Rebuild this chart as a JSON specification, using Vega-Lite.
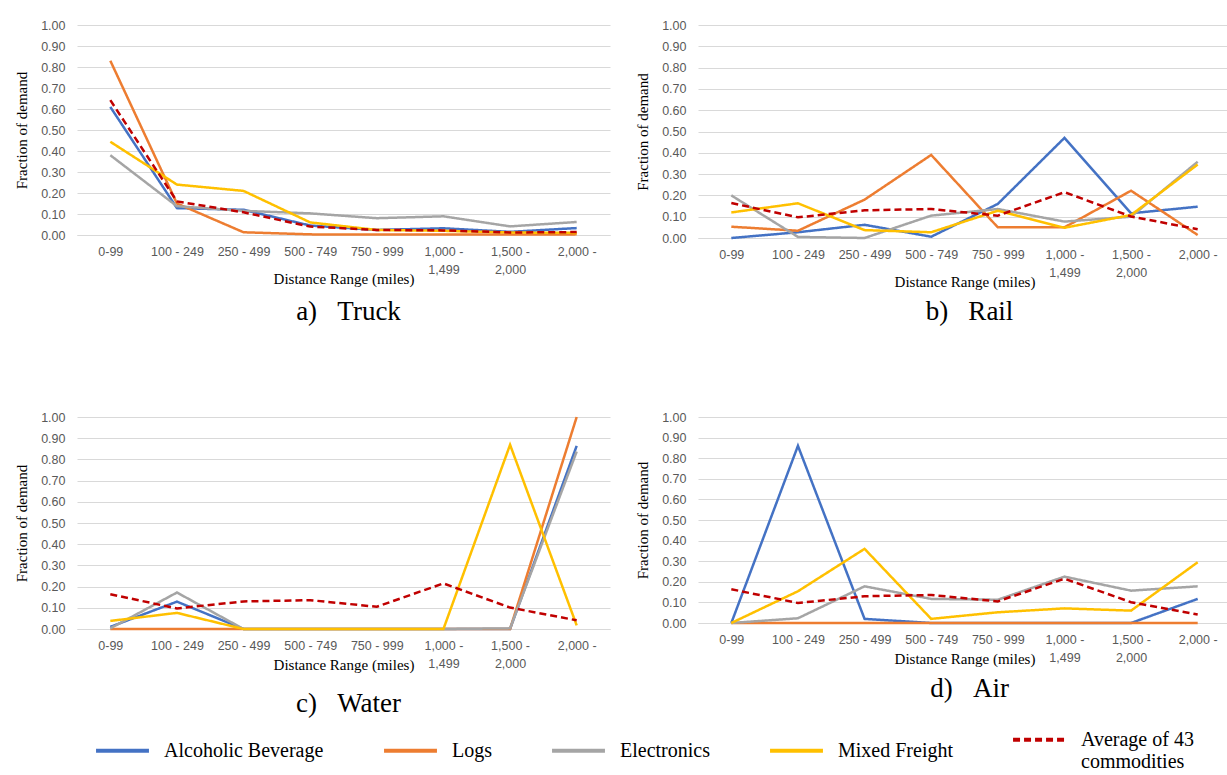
{
  "$schema": "https://vega.github.io/schema/vega-lite/v6.json",
  "padding": {"left": 14, "top": 19, "right": 0, "bottom": 0},
  "background": "white",
  "datasets": {
    "d": [
      {"mode":"Truck","series":"Alcoholic Beverage","range":"0-99","value":0.61},
      {"mode":"Truck","series":"Alcoholic Beverage","range":"100 - 249","value":0.128},
      {"mode":"Truck","series":"Alcoholic Beverage","range":"250 - 499","value":0.12},
      {"mode":"Truck","series":"Alcoholic Beverage","range":"500 - 749","value":0.045},
      {"mode":"Truck","series":"Alcoholic Beverage","range":"750 - 999","value":0.024},
      {"mode":"Truck","series":"Alcoholic Beverage","range":"1,000 - 1,499","value":0.032},
      {"mode":"Truck","series":"Alcoholic Beverage","range":"1,500 - 2,000","value":0.015},
      {"mode":"Truck","series":"Alcoholic Beverage","range":"2,000 -","value":0.033},
      {"mode":"Truck","series":"Logs","range":"0-99","value":0.83},
      {"mode":"Truck","series":"Logs","range":"100 - 249","value":0.15},
      {"mode":"Truck","series":"Logs","range":"250 - 499","value":0.013},
      {"mode":"Truck","series":"Logs","range":"500 - 749","value":0.003},
      {"mode":"Truck","series":"Logs","range":"750 - 999","value":0.002},
      {"mode":"Truck","series":"Logs","range":"1,000 - 1,499","value":0.002},
      {"mode":"Truck","series":"Logs","range":"1,500 - 2,000","value":0.002},
      {"mode":"Truck","series":"Logs","range":"2,000 -","value":0.003},
      {"mode":"Truck","series":"Electronics","range":"0-99","value":0.38},
      {"mode":"Truck","series":"Electronics","range":"100 - 249","value":0.137},
      {"mode":"Truck","series":"Electronics","range":"250 - 499","value":0.115},
      {"mode":"Truck","series":"Electronics","range":"500 - 749","value":0.103},
      {"mode":"Truck","series":"Electronics","range":"750 - 999","value":0.08},
      {"mode":"Truck","series":"Electronics","range":"1,000 - 1,499","value":0.089},
      {"mode":"Truck","series":"Electronics","range":"1,500 - 2,000","value":0.041},
      {"mode":"Truck","series":"Electronics","range":"2,000 -","value":0.062},
      {"mode":"Truck","series":"Mixed Freight","range":"0-99","value":0.444},
      {"mode":"Truck","series":"Mixed Freight","range":"100 - 249","value":0.24},
      {"mode":"Truck","series":"Mixed Freight","range":"250 - 499","value":0.21},
      {"mode":"Truck","series":"Mixed Freight","range":"500 - 749","value":0.06},
      {"mode":"Truck","series":"Mixed Freight","range":"750 - 999","value":0.024},
      {"mode":"Truck","series":"Mixed Freight","range":"1,000 - 1,499","value":0.02},
      {"mode":"Truck","series":"Mixed Freight","range":"1,500 - 2,000","value":0.012},
      {"mode":"Truck","series":"Mixed Freight","range":"2,000 -","value":0.01},
      {"mode":"Truck","series":"Average of 43 commodities","range":"0-99","value":0.642},
      {"mode":"Truck","series":"Average of 43 commodities","range":"100 - 249","value":0.16},
      {"mode":"Truck","series":"Average of 43 commodities","range":"250 - 499","value":0.108},
      {"mode":"Truck","series":"Average of 43 commodities","range":"500 - 749","value":0.04},
      {"mode":"Truck","series":"Average of 43 commodities","range":"750 - 999","value":0.024},
      {"mode":"Truck","series":"Average of 43 commodities","range":"1,000 - 1,499","value":0.022},
      {"mode":"Truck","series":"Average of 43 commodities","range":"1,500 - 2,000","value":0.012},
      {"mode":"Truck","series":"Average of 43 commodities","range":"2,000 -","value":0.014},

      {"mode":"Rail","series":"Alcoholic Beverage","range":"0-99","value":0.0},
      {"mode":"Rail","series":"Alcoholic Beverage","range":"100 - 249","value":0.027},
      {"mode":"Rail","series":"Alcoholic Beverage","range":"250 - 499","value":0.062},
      {"mode":"Rail","series":"Alcoholic Beverage","range":"500 - 749","value":0.006},
      {"mode":"Rail","series":"Alcoholic Beverage","range":"750 - 999","value":0.16},
      {"mode":"Rail","series":"Alcoholic Beverage","range":"1,000 - 1,499","value":0.47},
      {"mode":"Rail","series":"Alcoholic Beverage","range":"1,500 - 2,000","value":0.116},
      {"mode":"Rail","series":"Alcoholic Beverage","range":"2,000 -","value":0.147},
      {"mode":"Rail","series":"Logs","range":"0-99","value":0.053},
      {"mode":"Rail","series":"Logs","range":"100 - 249","value":0.034},
      {"mode":"Rail","series":"Logs","range":"250 - 499","value":0.18},
      {"mode":"Rail","series":"Logs","range":"500 - 749","value":0.39},
      {"mode":"Rail","series":"Logs","range":"750 - 999","value":0.05},
      {"mode":"Rail","series":"Logs","range":"1,000 - 1,499","value":0.05},
      {"mode":"Rail","series":"Logs","range":"1,500 - 2,000","value":0.222},
      {"mode":"Rail","series":"Logs","range":"2,000 -","value":0.014},
      {"mode":"Rail","series":"Electronics","range":"0-99","value":0.2},
      {"mode":"Rail","series":"Electronics","range":"100 - 249","value":0.005},
      {"mode":"Rail","series":"Electronics","range":"250 - 499","value":0.0},
      {"mode":"Rail","series":"Electronics","range":"500 - 749","value":0.105},
      {"mode":"Rail","series":"Electronics","range":"750 - 999","value":0.136},
      {"mode":"Rail","series":"Electronics","range":"1,000 - 1,499","value":0.077},
      {"mode":"Rail","series":"Electronics","range":"1,500 - 2,000","value":0.1},
      {"mode":"Rail","series":"Electronics","range":"2,000 -","value":0.358},
      {"mode":"Rail","series":"Mixed Freight","range":"0-99","value":0.12},
      {"mode":"Rail","series":"Mixed Freight","range":"100 - 249","value":0.163},
      {"mode":"Rail","series":"Mixed Freight","range":"250 - 499","value":0.037},
      {"mode":"Rail","series":"Mixed Freight","range":"500 - 749","value":0.027},
      {"mode":"Rail","series":"Mixed Freight","range":"750 - 999","value":0.128},
      {"mode":"Rail","series":"Mixed Freight","range":"1,000 - 1,499","value":0.048},
      {"mode":"Rail","series":"Mixed Freight","range":"1,500 - 2,000","value":0.108},
      {"mode":"Rail","series":"Mixed Freight","range":"2,000 -","value":0.345},
      {"mode":"Rail","series":"Average of 43 commodities","range":"0-99","value":0.164},
      {"mode":"Rail","series":"Average of 43 commodities","range":"100 - 249","value":0.097},
      {"mode":"Rail","series":"Average of 43 commodities","range":"250 - 499","value":0.13},
      {"mode":"Rail","series":"Average of 43 commodities","range":"500 - 749","value":0.136},
      {"mode":"Rail","series":"Average of 43 commodities","range":"750 - 999","value":0.105},
      {"mode":"Rail","series":"Average of 43 commodities","range":"1,000 - 1,499","value":0.215},
      {"mode":"Rail","series":"Average of 43 commodities","range":"1,500 - 2,000","value":0.101},
      {"mode":"Rail","series":"Average of 43 commodities","range":"2,000 -","value":0.041},

      {"mode":"Water","series":"Alcoholic Beverage","range":"0-99","value":0.01},
      {"mode":"Water","series":"Alcoholic Beverage","range":"100 - 249","value":0.129},
      {"mode":"Water","series":"Alcoholic Beverage","range":"250 - 499","value":0.0},
      {"mode":"Water","series":"Alcoholic Beverage","range":"500 - 749","value":0.0},
      {"mode":"Water","series":"Alcoholic Beverage","range":"750 - 999","value":0.0},
      {"mode":"Water","series":"Alcoholic Beverage","range":"1,000 - 1,499","value":0.0},
      {"mode":"Water","series":"Alcoholic Beverage","range":"1,500 - 2,000","value":0.0},
      {"mode":"Water","series":"Alcoholic Beverage","range":"2,000 -","value":0.864},
      {"mode":"Water","series":"Logs","range":"0-99","value":0.0},
      {"mode":"Water","series":"Logs","range":"100 - 249","value":0.0},
      {"mode":"Water","series":"Logs","range":"250 - 499","value":0.0},
      {"mode":"Water","series":"Logs","range":"500 - 749","value":0.0},
      {"mode":"Water","series":"Logs","range":"750 - 999","value":0.0},
      {"mode":"Water","series":"Logs","range":"1,000 - 1,499","value":0.0},
      {"mode":"Water","series":"Logs","range":"1,500 - 2,000","value":0.0},
      {"mode":"Water","series":"Logs","range":"2,000 -","value":1.0},
      {"mode":"Water","series":"Electronics","range":"0-99","value":0.003},
      {"mode":"Water","series":"Electronics","range":"100 - 249","value":0.172},
      {"mode":"Water","series":"Electronics","range":"250 - 499","value":0.0},
      {"mode":"Water","series":"Electronics","range":"500 - 749","value":0.0},
      {"mode":"Water","series":"Electronics","range":"750 - 999","value":0.0},
      {"mode":"Water","series":"Electronics","range":"1,000 - 1,499","value":0.0},
      {"mode":"Water","series":"Electronics","range":"1,500 - 2,000","value":0.003},
      {"mode":"Water","series":"Electronics","range":"2,000 -","value":0.837},
      {"mode":"Water","series":"Mixed Freight","range":"0-99","value":0.038},
      {"mode":"Water","series":"Mixed Freight","range":"100 - 249","value":0.076},
      {"mode":"Water","series":"Mixed Freight","range":"250 - 499","value":0.0},
      {"mode":"Water","series":"Mixed Freight","range":"500 - 749","value":0.0},
      {"mode":"Water","series":"Mixed Freight","range":"750 - 999","value":0.0},
      {"mode":"Water","series":"Mixed Freight","range":"1,000 - 1,499","value":0.0},
      {"mode":"Water","series":"Mixed Freight","range":"1,500 - 2,000","value":0.869},
      {"mode":"Water","series":"Mixed Freight","range":"2,000 -","value":0.017},
      {"mode":"Water","series":"Average of 43 commodities","range":"0-99","value":0.164},
      {"mode":"Water","series":"Average of 43 commodities","range":"100 - 249","value":0.097},
      {"mode":"Water","series":"Average of 43 commodities","range":"250 - 499","value":0.13},
      {"mode":"Water","series":"Average of 43 commodities","range":"500 - 749","value":0.136},
      {"mode":"Water","series":"Average of 43 commodities","range":"750 - 999","value":0.105},
      {"mode":"Water","series":"Average of 43 commodities","range":"1,000 - 1,499","value":0.215},
      {"mode":"Water","series":"Average of 43 commodities","range":"1,500 - 2,000","value":0.101},
      {"mode":"Water","series":"Average of 43 commodities","range":"2,000 -","value":0.041},

      {"mode":"Air","series":"Alcoholic Beverage","range":"0-99","value":0.0},
      {"mode":"Air","series":"Alcoholic Beverage","range":"100 - 249","value":0.86},
      {"mode":"Air","series":"Alcoholic Beverage","range":"250 - 499","value":0.02},
      {"mode":"Air","series":"Alcoholic Beverage","range":"500 - 749","value":0.0},
      {"mode":"Air","series":"Alcoholic Beverage","range":"750 - 999","value":0.0},
      {"mode":"Air","series":"Alcoholic Beverage","range":"1,000 - 1,499","value":0.0},
      {"mode":"Air","series":"Alcoholic Beverage","range":"1,500 - 2,000","value":0.0},
      {"mode":"Air","series":"Alcoholic Beverage","range":"2,000 -","value":0.117},
      {"mode":"Air","series":"Logs","range":"0-99","value":0.0},
      {"mode":"Air","series":"Logs","range":"100 - 249","value":0.0},
      {"mode":"Air","series":"Logs","range":"250 - 499","value":0.0},
      {"mode":"Air","series":"Logs","range":"500 - 749","value":0.0},
      {"mode":"Air","series":"Logs","range":"750 - 999","value":0.0},
      {"mode":"Air","series":"Logs","range":"1,000 - 1,499","value":0.0},
      {"mode":"Air","series":"Logs","range":"1,500 - 2,000","value":0.0},
      {"mode":"Air","series":"Logs","range":"2,000 -","value":0.0},
      {"mode":"Air","series":"Electronics","range":"0-99","value":0.0},
      {"mode":"Air","series":"Electronics","range":"100 - 249","value":0.023},
      {"mode":"Air","series":"Electronics","range":"250 - 499","value":0.178},
      {"mode":"Air","series":"Electronics","range":"500 - 749","value":0.117},
      {"mode":"Air","series":"Electronics","range":"750 - 999","value":0.113},
      {"mode":"Air","series":"Electronics","range":"1,000 - 1,499","value":0.225},
      {"mode":"Air","series":"Electronics","range":"1,500 - 2,000","value":0.157},
      {"mode":"Air","series":"Electronics","range":"2,000 -","value":0.178},
      {"mode":"Air","series":"Mixed Freight","range":"0-99","value":0.0},
      {"mode":"Air","series":"Mixed Freight","range":"100 - 249","value":0.154},
      {"mode":"Air","series":"Mixed Freight","range":"250 - 499","value":0.36},
      {"mode":"Air","series":"Mixed Freight","range":"500 - 749","value":0.02},
      {"mode":"Air","series":"Mixed Freight","range":"750 - 999","value":0.052},
      {"mode":"Air","series":"Mixed Freight","range":"1,000 - 1,499","value":0.071},
      {"mode":"Air","series":"Mixed Freight","range":"1,500 - 2,000","value":0.06},
      {"mode":"Air","series":"Mixed Freight","range":"2,000 -","value":0.295},
      {"mode":"Air","series":"Average of 43 commodities","range":"0-99","value":0.164},
      {"mode":"Air","series":"Average of 43 commodities","range":"100 - 249","value":0.097},
      {"mode":"Air","series":"Average of 43 commodities","range":"250 - 499","value":0.13},
      {"mode":"Air","series":"Average of 43 commodities","range":"500 - 749","value":0.136},
      {"mode":"Air","series":"Average of 43 commodities","range":"750 - 999","value":0.105},
      {"mode":"Air","series":"Average of 43 commodities","range":"1,000 - 1,499","value":0.215},
      {"mode":"Air","series":"Average of 43 commodities","range":"1,500 - 2,000","value":0.101},
      {"mode":"Air","series":"Average of 43 commodities","range":"2,000 -","value":0.041}
    ]
  },
  "data": {"name": "d"},
  "columns": 2,
  "spacing": {"row": 86, "column": 25},
  "concat": [
    {
      "width": 533, "height": 210,
      "title": {"text": "a)\u00a0\u00a0\u00a0Truck", "offset": 12},
      "transform": [{"filter": "datum.mode === 'Truck'"}],
      "mark": {"type": "line", "strokeWidth": 2.5},
      "encoding": {
        "x": {"field": "range", "type": "ordinal", "sort": ["0-99","100 - 249","250 - 499","500 - 749","750 - 999","1,000 - 1,499","1,500 - 2,000","2,000 -"],
          "axis": {"title": "Distance Range (miles)", "labelAngle": 0, "ticks": false, "domainColor": "#D9D9D9", "grid": false, "labelFont": "Liberation Sans", "labelFontSize": 12.5, "labelColor": "#595959", "labelPadding": 10, "labelLineHeight": 18, "labelExpr": "indexof(datum.label, ',') >= 0 ? [slice(datum.label, 0, 7), slice(datum.label, 8)] : datum.label", "titleFont": "Liberation Serif", "titleFontSize": 15, "titleFontWeight": "normal", "titleColor": "#000000", "titlePadding": -4}},
        "y": {"field": "value", "type": "quantitative", "scale": {"domain": [0, 1]},
          "axis": {"title": "Fraction of demand", "values": [0, 0.1, 0.2, 0.3, 0.4, 0.5, 0.6, 0.7, 0.8, 0.9, 1.0], "format": ".2f", "domain": false, "ticks": false, "gridColor": "#D9D9D9", "labelOverlap": false, "labelFont": "Liberation Sans", "labelFontSize": 12.5, "labelColor": "#595959", "labelPadding": 12, "titleFont": "Liberation Serif", "titleFontSize": 15, "titleFontWeight": "normal", "titleColor": "#000000", "titlePadding": 11}},
        "color": {"field": "series", "type": "nominal", "scale": {"domain": ["Alcoholic Beverage","Logs","Electronics","Mixed Freight","Average of 43 commodities"], "range": ["#4472C4","#ED7D31","#A5A5A5","#FFC000","#C00000"]},
          "legend": {"title": null, "orient": "none", "legendX": 17, "legendY": 686, "direction": "horizontal", "symbolType": "stroke", "symbolSize": 2800, "symbolStrokeWidth": 4, "labelFont": "Liberation Serif", "labelFontSize": 20, "labelColor": "#000000", "labelOffset": 13, "labelLimit": 400, "columnPadding": 52, "labelExpr": "datum.label == 'Average of 43 commodities' ? ['Average of 43', 'commodities'] : datum.label"}},
        "strokeDash": {"field": "series", "type": "nominal", "scale": {"domain": ["Alcoholic Beverage","Logs","Electronics","Mixed Freight","Average of 43 commodities"], "range": [[1,0],[1,0],[1,0],[1,0],[7,4]]},
          "legend": {"title": null, "orient": "none", "legendX": 17, "legendY": 686, "direction": "horizontal", "symbolType": "stroke", "symbolSize": 2800, "symbolStrokeWidth": 4, "labelFont": "Liberation Serif", "labelFontSize": 20, "labelColor": "#000000", "labelOffset": 13, "labelLimit": 400, "columnPadding": 52, "labelExpr": "datum.label == 'Average of 43 commodities' ? ['Average of 43', 'commodities'] : datum.label"}}
      }
    },
    {
      "width": 533, "height": 213,
      "title": {"text": "b)\u00a0\u00a0\u00a0Rail", "offset": 9},
      "transform": [{"filter": "datum.mode === 'Rail'"}],
      "mark": {"type": "line", "strokeWidth": 2.5},
      "encoding": {
        "x": {"field": "range", "type": "ordinal", "sort": ["0-99","100 - 249","250 - 499","500 - 749","750 - 999","1,000 - 1,499","1,500 - 2,000","2,000 -"],
          "axis": {"title": "Distance Range (miles)", "labelAngle": 0, "ticks": false, "domainColor": "#D9D9D9", "grid": false, "labelFont": "Liberation Sans", "labelFontSize": 12.5, "labelColor": "#595959", "labelPadding": 10, "labelLineHeight": 18, "labelExpr": "indexof(datum.label, ',') >= 0 ? [slice(datum.label, 0, 7), slice(datum.label, 8)] : datum.label", "titleFont": "Liberation Serif", "titleFontSize": 15, "titleFontWeight": "normal", "titleColor": "#000000", "titlePadding": -4}},
        "y": {"field": "value", "type": "quantitative", "scale": {"domain": [0, 1]},
          "axis": {"title": "Fraction of demand", "values": [0, 0.1, 0.2, 0.3, 0.4, 0.5, 0.6, 0.7, 0.8, 0.9, 1.0], "format": ".2f", "domain": false, "ticks": false, "gridColor": "#D9D9D9", "labelOverlap": false, "labelFont": "Liberation Sans", "labelFontSize": 12.5, "labelColor": "#595959", "labelPadding": 12, "titleFont": "Liberation Serif", "titleFontSize": 15, "titleFontWeight": "normal", "titleColor": "#000000", "titlePadding": 11}},
        "color": {"field": "series", "type": "nominal", "scale": {"domain": ["Alcoholic Beverage","Logs","Electronics","Mixed Freight","Average of 43 commodities"], "range": ["#4472C4","#ED7D31","#A5A5A5","#FFC000","#C00000"]}},
        "strokeDash": {"field": "series", "type": "nominal", "scale": {"domain": ["Alcoholic Beverage","Logs","Electronics","Mixed Freight","Average of 43 commodities"], "range": [[1,0],[1,0],[1,0],[1,0],[7,4]]}}
      }
    },
    {
      "width": 533, "height": 212,
      "title": {"text": "c)\u00a0\u00a0\u00a0Water", "offset": 18},
      "transform": [{"filter": "datum.mode === 'Water'"}],
      "mark": {"type": "line", "strokeWidth": 2.5},
      "encoding": {
        "x": {"field": "range", "type": "ordinal", "sort": ["0-99","100 - 249","250 - 499","500 - 749","750 - 999","1,000 - 1,499","1,500 - 2,000","2,000 -"],
          "axis": {"title": "Distance Range (miles)", "labelAngle": 0, "ticks": false, "domainColor": "#D9D9D9", "grid": false, "labelFont": "Liberation Sans", "labelFontSize": 12.5, "labelColor": "#595959", "labelPadding": 10, "labelLineHeight": 18, "labelExpr": "indexof(datum.label, ',') >= 0 ? [slice(datum.label, 0, 7), slice(datum.label, 8)] : datum.label", "titleFont": "Liberation Serif", "titleFontSize": 15, "titleFontWeight": "normal", "titleColor": "#000000", "titlePadding": -12}},
        "y": {"field": "value", "type": "quantitative", "scale": {"domain": [0, 1]},
          "axis": {"title": "Fraction of demand", "values": [0, 0.1, 0.2, 0.3, 0.4, 0.5, 0.6, 0.7, 0.8, 0.9, 1.0], "format": ".2f", "domain": false, "ticks": false, "gridColor": "#D9D9D9", "labelOverlap": false, "labelFont": "Liberation Sans", "labelFontSize": 12.5, "labelColor": "#595959", "labelPadding": 12, "titleFont": "Liberation Serif", "titleFontSize": 15, "titleFontWeight": "normal", "titleColor": "#000000", "titlePadding": 11}},
        "color": {"field": "series", "type": "nominal", "scale": {"domain": ["Alcoholic Beverage","Logs","Electronics","Mixed Freight","Average of 43 commodities"], "range": ["#4472C4","#ED7D31","#A5A5A5","#FFC000","#C00000"]}},
        "strokeDash": {"field": "series", "type": "nominal", "scale": {"domain": ["Alcoholic Beverage","Logs","Electronics","Mixed Freight","Average of 43 commodities"], "range": [[1,0],[1,0],[1,0],[1,0],[7,4]]}}
      }
    },
    {
      "width": 533, "height": 206,
      "title": {"text": "d)\u00a0\u00a0\u00a0Air", "offset": 9},
      "transform": [{"filter": "datum.mode === 'Air'"}],
      "mark": {"type": "line", "strokeWidth": 2.5},
      "encoding": {
        "x": {"field": "range", "type": "ordinal", "sort": ["0-99","100 - 249","250 - 499","500 - 749","750 - 999","1,000 - 1,499","1,500 - 2,000","2,000 -"],
          "axis": {"title": "Distance Range (miles)", "labelAngle": 0, "ticks": false, "domainColor": "#D9D9D9", "grid": false, "labelFont": "Liberation Sans", "labelFontSize": 12.5, "labelColor": "#595959", "labelPadding": 10, "labelLineHeight": 18, "labelExpr": "indexof(datum.label, ',') >= 0 ? [slice(datum.label, 0, 7), slice(datum.label, 8)] : datum.label", "titleFont": "Liberation Serif", "titleFontSize": 15, "titleFontWeight": "normal", "titleColor": "#000000", "titlePadding": -12}},
        "y": {"field": "value", "type": "quantitative", "scale": {"domain": [0, 1]},
          "axis": {"title": "Fraction of demand", "values": [0, 0.1, 0.2, 0.3, 0.4, 0.5, 0.6, 0.7, 0.8, 0.9, 1.0], "format": ".2f", "domain": false, "ticks": false, "gridColor": "#D9D9D9", "labelOverlap": false, "labelFont": "Liberation Sans", "labelFontSize": 12.5, "labelColor": "#595959", "labelPadding": 12, "titleFont": "Liberation Serif", "titleFontSize": 15, "titleFontWeight": "normal", "titleColor": "#000000", "titlePadding": 11}},
        "color": {"field": "series", "type": "nominal", "scale": {"domain": ["Alcoholic Beverage","Logs","Electronics","Mixed Freight","Average of 43 commodities"], "range": ["#4472C4","#ED7D31","#A5A5A5","#FFC000","#C00000"]}},
        "strokeDash": {"field": "series", "type": "nominal", "scale": {"domain": ["Alcoholic Beverage","Logs","Electronics","Mixed Freight","Average of 43 commodities"], "range": [[1,0],[1,0],[1,0],[1,0],[7,4]]}}
      }
    }
  ],
  "resolve": {"scale": {"color": "shared", "strokeDash": "shared"}, "legend": {"color": "shared", "strokeDash": "shared"}},
  "config": {
    "view": {"stroke": null},
    "title": {"orient": "bottom", "anchor": "middle", "frame": "group", "font": "Liberation Serif", "fontSize": 27, "fontWeight": "normal", "color": "#000000", "baseline": "top", "dx": 5},
    "legend": {"labelFont": "Liberation Serif", "labelFontSize": 20, "labelColor": "#000000"}
  }
}
